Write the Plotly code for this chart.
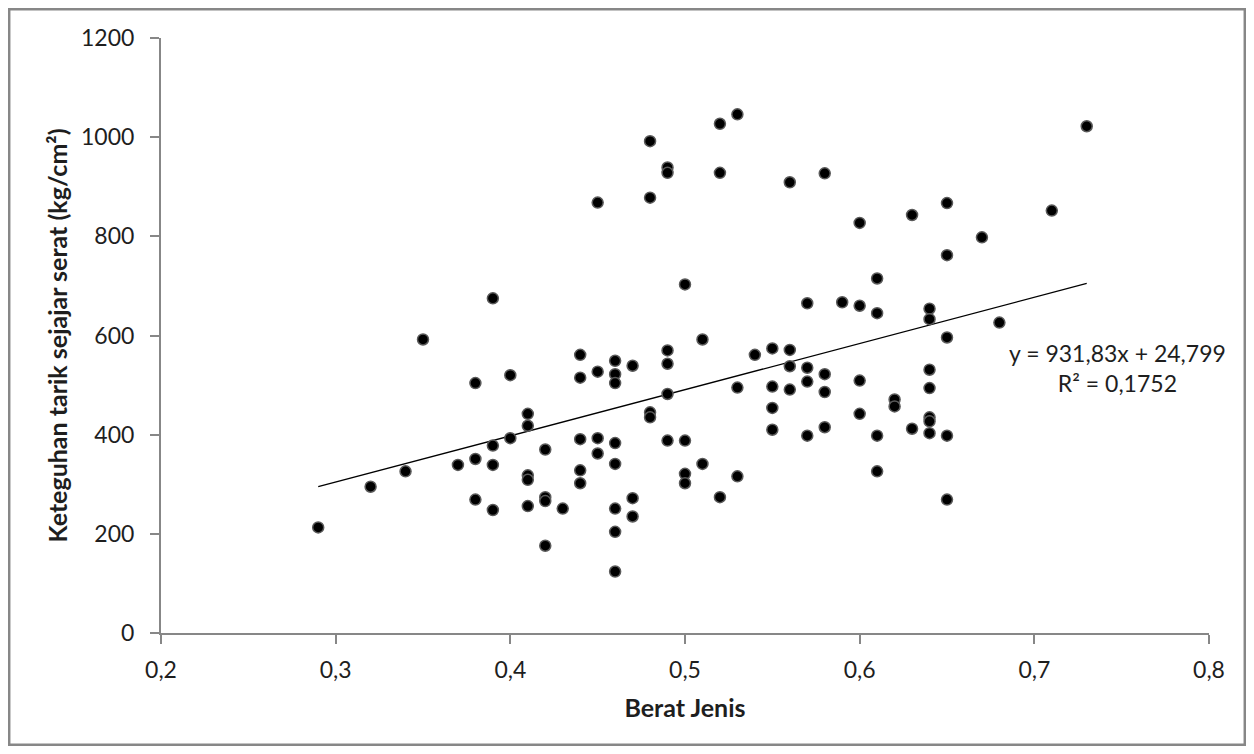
import plotly.graph_objects as go

# Data
berat_jenis = (
    [0.29, 0.32, 0.34, 0.35, 0.37]
    + [0.38] * 3 + [0.39] * 4 + [0.40] * 2 + [0.41] * 5 + [0.42] * 4 + [0.43]
    + [0.44] * 5 + [0.45] * 4 + [0.46] * 8 + [0.47] * 3 + [0.48] * 4 + [0.49] * 6
    + [0.50] * 4 + [0.51] * 2 + [0.52] * 3 + [0.53] * 3 + [0.54] + [0.55] * 4
    + [0.56] * 4 + [0.57] * 4 + [0.58] * 4 + [0.59] + [0.60] * 4 + [0.61] * 4
    + [0.62] * 2 + [0.63] * 2 + [0.64] * 7 + [0.65] * 5 + [0.67, 0.68, 0.71, 0.73]
)
keteguhan = [
    213, 295, 326, 592, 339,
    504, 351, 269,
    675, 378, 339, 248,
    520, 393,
    442, 418, 318, 309, 256,
    370, 274, 266, 176,
    251,
    561, 515, 391, 328, 302,
    868, 527, 393, 362,
    549, 522, 504, 383, 341, 251, 204, 124,
    539, 272, 235,
    992, 878, 445, 435,
    939, 928, 570, 543, 482, 388,
    703, 388, 321, 302,
    592, 341,
    1027, 928, 274,
    1046, 495, 316,
    561,
    574, 497, 454, 410,
    909, 571, 538, 491,
    665, 535, 507, 398,
    927, 522, 486, 415,
    667,
    827, 660, 509, 442,
    715, 645, 398, 326,
    471, 457,
    843, 412,
    654, 633, 531, 494, 435, 427, 403,
    867, 762, 596, 398, 269,
    798, 626, 852, 1022,
]

# Linear trendline as reported on the chart
slope = 931.83
intercept = 24.799
r_squared_label = "0,1752"

x_tickvals = [0.2, 0.3, 0.4, 0.5, 0.6, 0.7, 0.8]
x_ticktext = ["0,2", "0,3", "0,4", "0,5", "0,6", "0,7", "0,8"]
y_tickvals = [0, 200, 400, 600, 800, 1000, 1200]
y_ticktext = ["0", "200", "400", "600", "800", "1000", "1200"]

x_title = "Berat Jenis"
y_title = "Keteguhan tarik sejajar serat (kg/cm²)"

FONT = "Lato, 'Open Sans', sans-serif"
TEXT = "#1e1e1e"
AXIS = "#878787"
TICK_SIZE = 23
TITLE_SIZE = 25

x_min, x_max = min(berat_jenis), max(berat_jenis)
trend_x = [x_min, x_max]
trend_y = [slope * v + intercept for v in trend_x]

fig = go.Figure()
fig.add_trace(go.Scatter(
    x=trend_x, y=trend_y, mode="lines",
    line=dict(color="#000000", width=1.3),
    hoverinfo="skip", showlegend=False,
))
fig.add_trace(go.Scatter(
    x=berat_jenis, y=keteguhan, mode="markers",
    marker=dict(size=11, color="#000000", line=dict(color="#5a5a5a", width=1.5)),
    showlegend=False,
))

fig.add_annotation(
    x=0.7478, y=535, xref="x", yref="y",
    text=f"y = {str(slope).replace('.', ',')}x + {str(intercept).replace('.', ',')}<br>R² = {r_squared_label}",
    showarrow=False, align="center",
    font=dict(family=FONT, size=TICK_SIZE, color=TEXT),
)

# page has an 8px body margin; the figure is sized to fit inside it
W, H = 1238, 738
L, R, T, B = 153, 37, 30, 113
pw, ph = W - L - R, H - T - B
def px_x(p):
    return (p - L) / pw
def px_y(p):
    return (H - B - p) / ph

fig.add_shape(
    type="rect", xref="paper", yref="paper",
    x0=px_x(1.2), x1=px_x(W - 1.2), y0=px_y(H - 1.2), y1=px_y(1.2),
    line=dict(color="#878787", width=2.5), fillcolor="rgba(0,0,0,0)", layer="below",
)

fig.update_layout(
    width=W, height=H,
    margin=dict(l=L, r=R, t=T, b=B),
    paper_bgcolor="white", plot_bgcolor="white",
    font=dict(family=FONT, size=TICK_SIZE, color=TEXT),
    showlegend=False,
)
fig.update_xaxes(
    range=[0.2, 0.8], tickvals=x_tickvals, ticktext=x_ticktext,
    showgrid=False, zeroline=False,
    showline=True, linecolor=AXIS, linewidth=2,
    ticks="outside", ticklen=9, tickwidth=1.5, tickcolor=AXIS,
    ticklabelstandoff=6,
    tickfont=dict(family=FONT, size=TICK_SIZE, color=TEXT),
    title=dict(text=f"<b>{x_title}</b>", font=dict(family=FONT, size=TITLE_SIZE, color=TEXT), standoff=18),
)
fig.update_yaxes(
    range=[0, 1200], tickvals=y_tickvals, ticktext=y_ticktext,
    showgrid=False, zeroline=False,
    showline=True, linecolor=AXIS, linewidth=2,
    ticks="outside", ticklen=9, tickwidth=1.5, tickcolor=AXIS,
    ticklabelstandoff=11,
    tickfont=dict(family=FONT, size=TICK_SIZE, color=TEXT),
    title=dict(text=f"<b>{y_title}</b>", font=dict(family=FONT, size=TITLE_SIZE, color=TEXT), standoff=6),
)

fig.write_html("out.html")
